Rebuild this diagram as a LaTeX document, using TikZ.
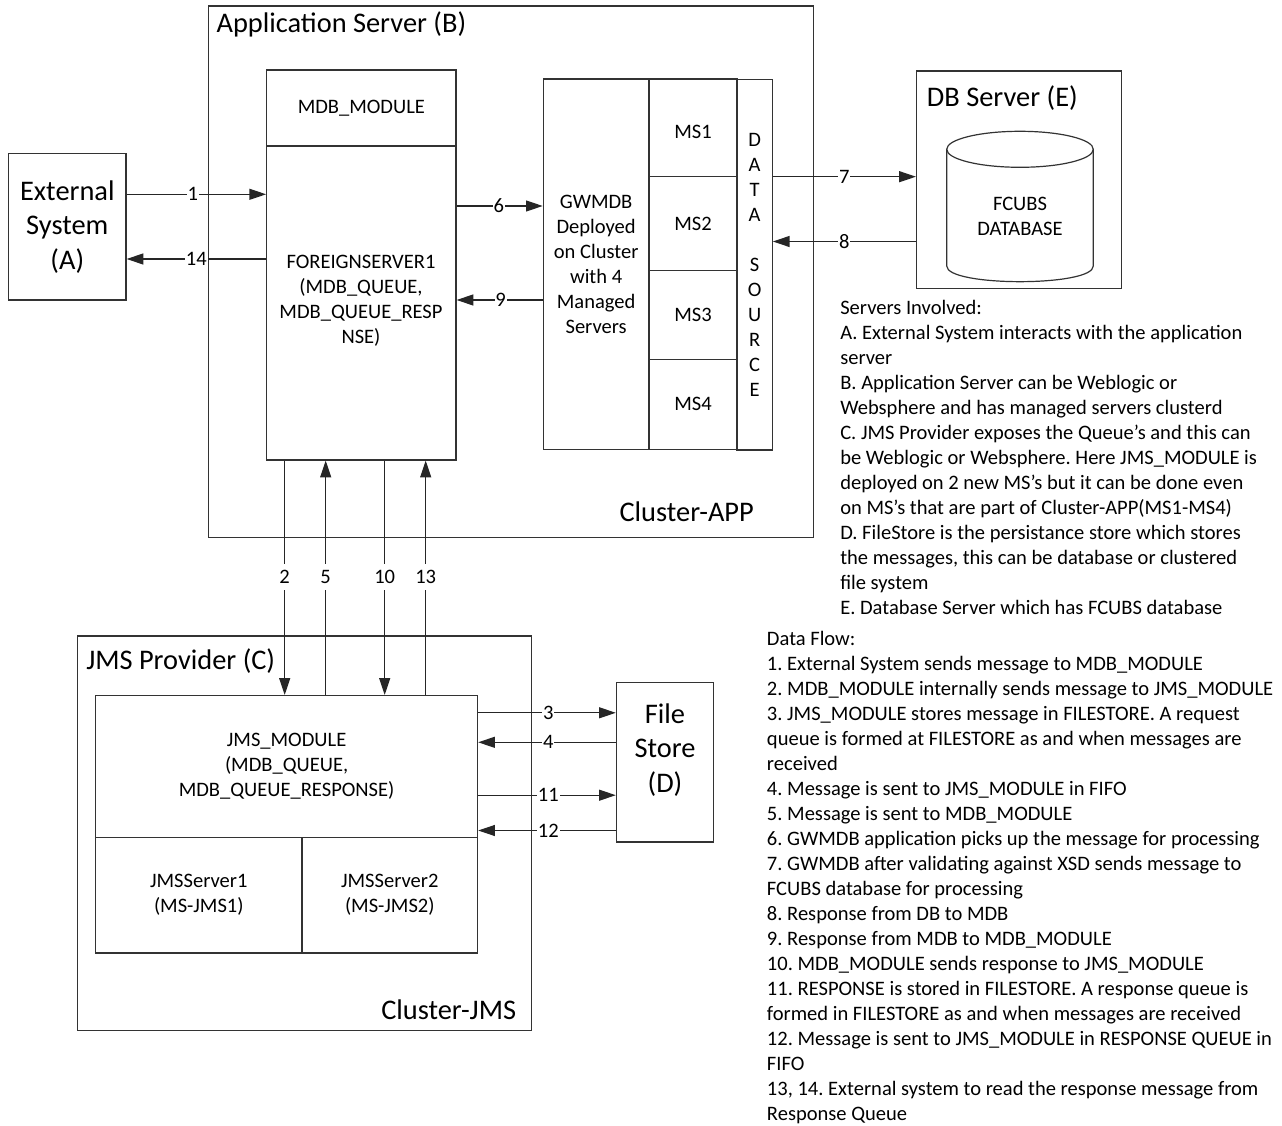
\documentclass[tikz,border=0pt]{standalone}
\usepackage{fontspec}
\setmainfont{Carlito}
\usetikzlibrary{arrows.meta,fit}
\frenchspacing
\begin{document}
\begin{tikzpicture}[x=0.75pt,y=-0.75pt,
  sm/.style={font=\fontsize{15.4}{18.75}\selectfont},
  lg/.style={font=\fontsize{21.3}{25.9}\selectfont},
  box/.style={draw=black!80,line width=0.9pt,inner sep=0pt},
  ln/.style={draw=black!80,line width=0.9pt},
  arr/.style={draw=black!85,line width=0.9pt,-{Triangle[length=12.5pt,width=8.2pt]}},
  lbl/.style={sm,fill=white,inner xsep=0.6pt,inner ysep=5pt},
  txt/.style={inner sep=0pt,align=center}
]
\fill[white] (0,0) rectangle (1282,1126);
\useasboundingbox (0,0) rectangle (1282,1126);

% ---------- outer containers ----------
\node[box,fit={(208.3,6) (813.3,537.3)}] (app) {};
\node[box,fit={(77.8,636) (531.4,1030.5)}] (jp) {};
\node[box,fit={(916.5,71) (1121.7,288.3)}] (dbs) {};

% ---------- boxes ----------
\node[box,fit={(8.6,153.3) (126,300)}] (ext) {};
\node[box,fit={(266.7,70) (456,146)}] (mdb) {};
\node[box,fit={(266.7,146) (456,460)}] (fsrv) {};
\node[box,fit={(543.3,79) (649,449.3)}] (gw) {};
\node[box,fit={(649,79) (737,176.7)}] (ms1) {};
\node[box,fit={(649,176.7) (737,270.7)}] (ms2) {};
\node[box,fit={(649,270.7) (737,359.3)}] (ms3) {};
\node[box,fit={(649,359.3) (737,449.3)}] (ms4) {};
\node[box,fit={(737,79.7) (772.3,450)}] (ds) {};
\node[box,fit={(95.6,695.5) (477.6,837.4)}] (jmsm) {};
\node[box,fit={(95.6,837.4) (302,953)}] (js1) {};
\node[box,fit={(302,837.4) (477.6,953)}] (js2) {};
\node[box,fit={(616.4,682.6) (713.5,842)}] (fstore) {};

% cylinder
\draw[ln] (1020,149.3) ellipse [x radius=73.3, y radius=18];
\draw[ln] (946.7,149.3) -- (946.7,266) .. controls (946.7,286.9) and (1093.3,286.9) .. (1093.3,266) -- (1093.3,149.3);

% ---------- texts ----------
\node[txt,lg,anchor=west] (tapp) at (216.3,24) {Application Server (B)};
\node[txt,lg,anchor=west] (tcapp) at (619.3,511.7) {Cluster-APP};
\node[txt,lg,anchor=west] (tjp) at (86,661) {JMS Provider (C)};
\node[txt,lg,anchor=west] (tcjms) at (381,1010) {Cluster-JMS};
\node[txt,lg,anchor=west] (tdb) at (926.7,98) {DB Server (E)};
\node[txt,lg] (text) at (ext.center) {External\\System\\(A)};
\node[txt,lg] (tfs) at (665,750) {File\\Store\\(D)};
\node[txt,sm] (tmdb) at (mdb.center) {MDB\_MODULE};
\node[txt,sm] (tfsrv) at (361,301) {FOREIGNSERVER1\\(MDB\_QUEUE,\\MDB\_QUEUE\_RESP\\NSE)};
\node[txt,sm] (tgw) at (gw.center) {GWMDB\\Deployed\\on Cluster\\with 4\\Managed\\Servers};
\node[txt,sm] (tms1) at (693,132) {MS1};
\node[txt,sm] (tms2) at (ms2.center) {MS2};
\node[txt,sm] (tms3) at (ms3.center) {MS3};
\node[txt,sm] (tms4) at (ms4.center) {MS4};
\node[txt,sm] (tds) at (ds.center) {D\\A\\T\\A\\[18.75pt]S\\O\\U\\R\\C\\E};
\node[txt,sm] (tfcubs) at (1020,216.7) {FCUBS\\DATABASE};
\node[txt,sm] (tjmsm) at (jmsm.center) {JMS\_MODULE\\(MDB\_QUEUE,\\MDB\_QUEUE\_RESPONSE)};
\node[txt,sm] (tjs1) at (js1.center) {JMSServer1\\(MS-JMS1)};
\node[txt,sm] (tjs2) at (js2.center) {JMSServer2\\(MS-JMS2)};

% ---------- connectors ----------
\draw[arr] (ext.east |- 0,194.3) -- node[lbl,pos=.474]{1} (fsrv.west |- 0,194.3);
\draw[arr] (fsrv.west |- 0,259) -- node[lbl,pos=.50]{14} (ext.east |- 0,259);
\draw[arr] (fsrv.east |- 0,206) -- node[lbl,pos=.49]{6} (gw.west |- 0,206);
\draw[arr] (gw.west |- 0,300) -- node[lbl,pos=.49]{9} (fsrv.east |- 0,300);
\draw[arr] (ds.east |- 0,176.7) -- node[lbl,pos=.50]{7} (dbs.west |- 0,176.7);
\draw[arr] (dbs.west |- 0,241.5) -- node[lbl,pos=.50]{8} (ds.east |- 0,241.5);

\draw[arr] (fsrv.south -| 284.7,0) -- node[lbl,pos=.497]{2} (jmsm.north -| 284.7,0);
\draw[arr] (jmsm.north -| 325.7,0) -- node[lbl,pos=.503]{5} (fsrv.south -| 325.7,0);
\draw[arr] (fsrv.south -| 384.7,0) -- node[lbl,pos=.497]{10} (jmsm.north -| 384.7,0);
\draw[arr] (jmsm.north -| 425.7,0) -- node[lbl,pos=.503]{13} (fsrv.south -| 425.7,0);

\draw[arr] (jmsm.east |- 0,712.8) -- node[lbl,pos=.51]{3} (fstore.west |- 0,712.8);
\draw[arr] (fstore.west |- 0,742.3) -- node[lbl,pos=.49]{4} (jmsm.east |- 0,742.3);
\draw[arr] (jmsm.east |- 0,795.2) -- node[lbl,pos=.51]{11} (fstore.west |- 0,795.2);
\draw[arr] (fstore.west |- 0,830.5) -- node[lbl,pos=.49]{12} (jmsm.east |- 0,830.5);

% ---------- notes ----------
\node[sm,align=left,anchor=north west,inner sep=0pt] (srvnote) at (840,300) {Servers Involved:\\
A. External System interacts with the application\\
server\\
B. Application Server can be Weblogic or\\
Websphere and has managed servers clusterd\\
C. JMS Provider exposes the Queue’s and this can\\
be Weblogic or Websphere. Here JMS\_MODULE is\\
deployed on 2 new MS’s but it can be done even\\
on MS’s that are part of Cluster-APP(MS1-MS4)\\
D. FileStore is the persistance store which stores\\
the messages, this can be database or clustered\\
file system\\
E. Database Server which has FCUBS database};

\node[sm,align=left,anchor=north west,inner sep=0pt] (flownote) at (766.7,631) {Data Flow:\\
1. External System sends message to MDB\_MODULE\\
2. MDB\_MODULE internally sends message to JMS\_MODULE\\
3. JMS\_MODULE stores message in FILESTORE. A request\\
queue is formed at FILESTORE as and when messages are\\
received\\
4. Message is sent to JMS\_MODULE in FIFO\\
5. Message is sent to MDB\_MODULE\\
6. GWMDB application picks up the message for processing\\
7. GWMDB after validating against XSD sends message to\\
FCUBS database for processing\\
8. Response from DB to MDB\\
9. Response from MDB to MDB\_MODULE\\
10. MDB\_MODULE sends response to JMS\_MODULE\\
11. RESPONSE is stored in FILESTORE. A response queue is\\
formed in FILESTORE as and when messages are received\\
12. Message is sent to JMS\_MODULE in RESPONSE QUEUE in\\
FIFO\\
13, 14. External system to read the response message from\\
Response Queue};
\end{tikzpicture}
\end{document}
